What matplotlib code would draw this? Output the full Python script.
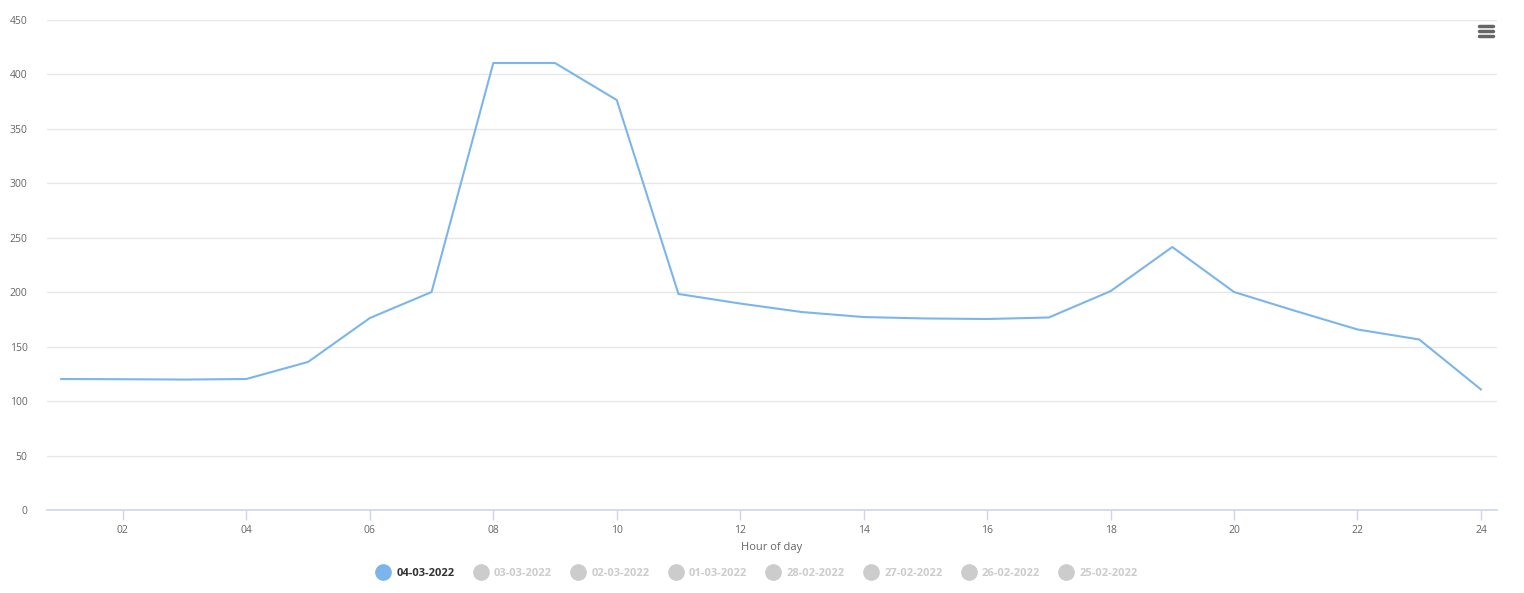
import numpy as np
import matplotlib
matplotlib.use("Agg")
import matplotlib.pyplot as plt
from matplotlib.lines import Line2D

plt.rcParams["font.family"] = ["Open Sans", "DejaVu Sans"]

hours = list(range(1, 25))
values = [120.3, 120.1, 119.8, 120.3, 136.0, 176.3, 200.2, 410.5, 410.5, 376.5,
          198.4, 189.6, 181.8, 177.2, 175.9, 175.4, 176.8, 201.0, 241.5, 200.2,
          182.7, 165.8, 156.6, 110.7]
xtick_vals = list(range(2, 25, 2))
xtick_labels = [f"{h:02d}" for h in xtick_vals]
ytick_vals = list(range(0, 451, 50))
dates = ["04-03-2022", "03-03-2022", "02-03-2022", "01-03-2022",
         "28-02-2022", "27-02-2022", "26-02-2022", "25-02-2022"]

LINE = "#7cb5ec"
GRID = "#e6e6e6"
AXIS = "#ccd6eb"
LABEL = "#666666"

fig = plt.figure(figsize=(15.24, 5.93), dpi=100)
ax = fig.add_axes([47 / 1524, 1 - 510 / 593, 1450 / 1524, 490 / 593])

ax.plot(hours, values, color=LINE, lw=1.5, solid_joinstyle="round")

ax.set_xlim(0.77, 24.26)
ax.set_ylim(0, 450)
ax.set_yticks(ytick_vals)
ax.set_yticklabels([str(v) for v in ytick_vals])
ax.set_xticks(xtick_vals)
ax.set_xticklabels(xtick_labels)

ax.grid(axis="y", color=GRID, lw=1)
ax.set_axisbelow(True)
for s in ["top", "right", "left"]:
    ax.spines[s].set_visible(False)
ax.spines["bottom"].set_color(AXIS)
ax.spines["bottom"].set_linewidth(1.2)

ax.tick_params(axis="y", length=0, pad=14, labelsize=7.5, labelcolor=LABEL)
ax.tick_params(axis="x", length=7, width=1, color=AXIS, pad=4,
               labelsize=7.5, labelcolor=LABEL)
ax.set_xlabel("Hour of day", fontsize=8, color=LABEL, labelpad=4)

# legend
handles = []
for i, d in enumerate(dates):
    c = LINE if i == 0 else "#cccccc"
    handles.append(Line2D([], [], ls="none", marker="o", ms=11,
                          markerfacecolor=c, markeredgecolor=c, label=d))
leg = fig.legend(handles=handles, loc="center", bbox_to_anchor=(757 / 1524, 1 - 573 / 593),
                 ncol=len(dates), frameon=False, handletextpad=0.55, columnspacing=1.75,
                 handlelength=1.25, prop={"weight": "bold", "size": 8})
for i, t in enumerate(leg.get_texts()):
    t.set_color("#333333" if i == 0 else "#cccccc")

# export menu icon
for yy in (26, 31, 36):
    fig.add_artist(Line2D([1479 / 1524, 1493 / 1524], [1 - yy / 593, 1 - yy / 593],
                          color="#666666", lw=2.5, solid_capstyle="round"))

fig.savefig("out.png", dpi=100)
